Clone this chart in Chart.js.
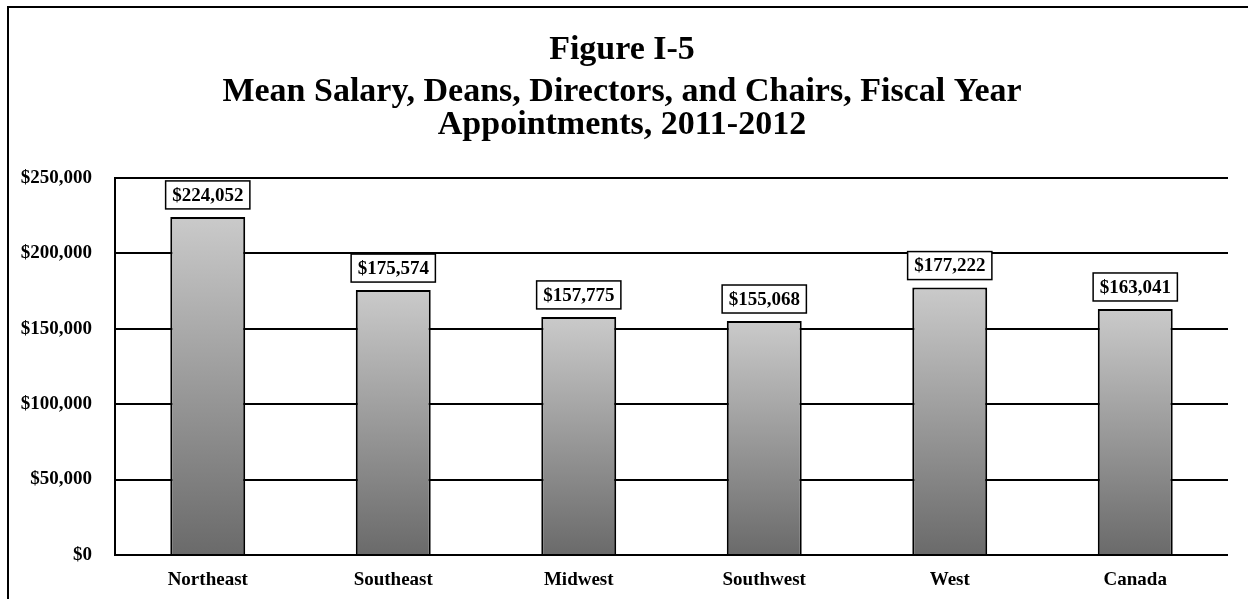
<!DOCTYPE html>
<html>
<head>
<meta charset="utf-8">
<script src="https://cdn.jsdelivr.net/npm/chart.js@4/dist/chart.umd.min.js"></script>
<style>
  html, body { margin: 0; padding: 0; background: #fff; }
  #wrap { width: 1248px; height: 599px; position: relative; }
</style>
</head>
<body>
<div id="wrap"><canvas id="chart"></canvas></div>
<script>
  const regions = ["Northeast", "Southeast", "Midwest", "Southwest", "West", "Canada"];
  const meanSalary = [224052, 175574, 157775, 155068, 177222, 163041];
  const yTicks = [0, 50000, 100000, 150000, 200000, 250000];
  const titleLines = ["Figure I-5"];
  const subtitleLines = ["Mean Salary, Deans, Directors, and Chairs, Fiscal Year", "Appointments, 2011-2012"];

  const serif = "'Liberation Serif', 'Times New Roman', serif";
  Chart.defaults.font.family = serif;
  Chart.defaults.color = "#000";

  const money = v => "$" + Number(v).toLocaleString("en-US");

  // gray gradient per bar, light at the top, dark at the base
  function barFill(context) {
    const chart = context.chart;
    const yScale = chart.scales.y;
    if (!yScale || context.type !== "data") return "#999";
    const top = yScale.getPixelForValue(context.raw);
    const base = yScale.getPixelForValue(0);
    if (!isFinite(top) || !isFinite(base)) return "#999";
    const g = chart.ctx.createLinearGradient(0, top, 0, base);
    g.addColorStop(0, "#cacaca");
    g.addColorStop(1, "#6a6a6a");
    return g;
  }

  // frame around the picture (only left and top edges are in view)
  const frame = {
    id: "frame",
    beforeDraw(chart) {
      const ctx = chart.ctx;
      ctx.save();
      ctx.fillStyle = "#fff";
      ctx.fillRect(0, 0, chart.width, chart.height);
      ctx.strokeStyle = "#000";
      ctx.lineWidth = 2;
      ctx.strokeRect(8, 7, chart.width + 20, chart.height + 20);
      ctx.restore();
    }
  };

  // boxed value labels above each bar
  const boxLabels = {
    id: "boxLabels",
    afterDatasetsDraw(chart) {
      const ctx = chart.ctx;
      const meta = chart.getDatasetMeta(0);
      ctx.save();
      ctx.font = "bold 19px " + serif;
      ctx.textAlign = "center";
      ctx.textBaseline = "middle";
      meta.data.forEach((bar, i) => {
        const text = money(chart.data.datasets[0].data[i]);
        const w = ctx.measureText(text).width + 13;
        const h = 28;
        const bx = bar.x - w / 2;
        const by = bar.y - 8 - h;
        ctx.fillStyle = "#fff";
        ctx.fillRect(bx, by, w, h);
        ctx.strokeStyle = "#000";
        ctx.lineWidth = 1.5;
        ctx.strokeRect(bx, by, w, h);
        ctx.fillStyle = "#000";
        ctx.fillText(text, bar.x, by + h / 2 + 1);
      });
      ctx.restore();
    }
  };

  new Chart(document.getElementById("chart"), {
    type: "bar",
    data: {
      labels: regions,
      datasets: [{
        data: meanSalary,
        backgroundColor: barFill,
        borderColor: "#000",
        borderWidth: 2,
        barPercentage: 0.404,
        categoryPercentage: 1
      }]
    },
    options: {
      responsive: true,
      maintainAspectRatio: false,
      animation: false,
      layout: { padding: { top: 0, left: 16, right: 20, bottom: 0 } },
      plugins: {
        legend: { display: false },
        tooltip: { enabled: false },
        title: {
          display: true,
          text: titleLines,
          font: { size: 34, weight: "bold", family: serif, lineHeight: 1.2 },
          color: "#000",
          padding: { top: 30, bottom: 5 }
        },
        subtitle: {
          display: true,
          text: subtitleLines,
          font: { size: 34, weight: "bold", family: serif, lineHeight: 0.97 },
          color: "#000",
          padding: { top: 0, bottom: 36 }
        }
      },
      scales: {
        x: {
          grid: { display: false, drawTicks: false },
          border: { display: false },
          ticks: { font: { size: 19, weight: "bold" }, color: "#000", padding: 14 },
          afterFit(scale) { scale.height = 44; }
        },
        y: {
          min: 0,
          max: 250000,
          afterBuildTicks(scale) { scale.ticks = yTicks.map(v => ({ value: v })); },
          grid: { color: "#000", lineWidth: 2, drawTicks: false },
          border: { display: true, color: "#000", width: 2 },
          ticks: {
            font: { size: 19, weight: "bold" },
            color: "#000",
            padding: 23,
            callback: v => money(v)
          },
          afterFit(scale) { scale.width = 99; }
        }
      }
    },
    plugins: [frame, boxLabels]
  });
</script>
</body>
</html>
